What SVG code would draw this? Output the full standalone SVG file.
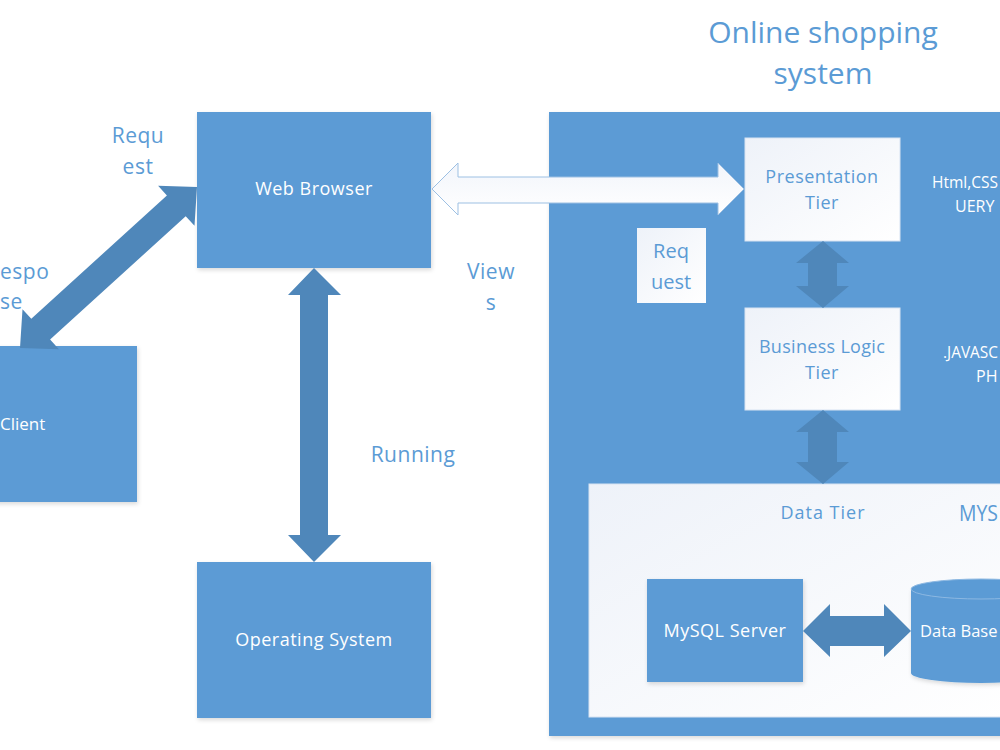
<svg xmlns="http://www.w3.org/2000/svg" width="1000" height="750" viewBox="0 0 1000 750">
  <defs>
    <linearGradient id="wg" x1="0" y1="0" x2="1" y2="1">
      <stop offset="0" stop-color="#eef2f9"/>
      <stop offset="1" stop-color="#ffffff"/>
    </linearGradient>
    <linearGradient id="ag" x1="0" y1="0" x2="0" y2="1">
      <stop offset="0" stop-color="#f2f5fb"/>
      <stop offset="1" stop-color="#ffffff"/>
    </linearGradient>
    <filter id="sh" x="-10%" y="-10%" width="120%" height="120%">
      <feDropShadow dx="1" dy="2" stdDeviation="2" flood-color="#000" flood-opacity="0.15"/>
    </filter>
  </defs>
  <style>
    .box { fill: #5b9bd5; filter: url(#sh); }
    .wbox { fill: url(#wg); stroke: #d7e3f2; stroke-width: 1; }
    .arr { fill: #4f87ba; }
    .t { font-family: "Open Sans", "Noto Sans", "Liberation Sans", sans-serif; }
    .wt { fill: #ffffff; font-size: 18px; letter-spacing: 0.5px; }
    .bt { fill: #5b9bd5; }
    .lb { font-size: 21px; letter-spacing: 0.5px; }
    .rt { fill: #ffffff; font-size: 16px; }
  </style>
  <rect width="1000" height="750" fill="#ffffff"/>

  <g id="title">
    <text class="t bt" x="823" y="43" font-size="30" text-anchor="middle">Online shopping</text>
    <text class="t bt" x="823" y="84" font-size="30" text-anchor="middle">system</text>
  </g>

  <g id="system">
    <rect class="box" x="549" y="112" width="460" height="624"/>
    <text class="t rt" x="932" y="188" textLength="66" lengthAdjust="spacingAndGlyphs">Html,CSS</text>
    <text class="t rt" x="955" y="212">UERY</text>
    <text class="t rt" x="943" y="358" textLength="55" lengthAdjust="spacingAndGlyphs">.JAVASC</text>
    <text class="t rt" x="976" y="382">PH</text>
  </g>

  <g id="data-tier">
    <rect x="589" y="484" width="420" height="233" fill="url(#wg)" stroke="#d7e3f2"/>
    <text class="t bt" x="823" y="519" font-size="18" letter-spacing="1" text-anchor="middle">Data Tier</text>
    <text class="t bt" x="959" y="521" font-size="21" textLength="39" lengthAdjust="spacingAndGlyphs">MYS</text>
  </g>

  <g id="client">
    <rect class="box" x="-80" y="346" width="217" height="156"/>
    <text class="t" fill="#ffffff" x="0" y="430" font-size="17">Client</text>
  </g>

  <g id="web-browser">
    <rect class="box" x="197" y="112" width="234" height="156"/>
    <text class="t wt" x="314" y="195" text-anchor="middle">Web Browser</text>
  </g>

  <g id="operating-system">
    <rect class="box" x="197" y="562" width="234" height="156"/>
    <text class="t wt" x="314" y="646" text-anchor="middle">Operating System</text>
  </g>

  <g id="presentation-tier">
    <rect class="wbox" x="745" y="138" width="155" height="103"/>
    <text class="t bt" x="822" y="183" font-size="18" letter-spacing="0.5" text-anchor="middle">Presentation</text>
    <text class="t bt" x="822" y="209" font-size="18" letter-spacing="0.5" text-anchor="middle">Tier</text>
  </g>

  <g id="business-logic-tier">
    <rect class="wbox" x="745" y="308" width="155" height="102"/>
    <text class="t bt" x="822" y="353" font-size="18" letter-spacing="0.3" text-anchor="middle">Business Logic</text>
    <text class="t bt" x="822" y="379" font-size="18" letter-spacing="0.5" text-anchor="middle">Tier</text>
  </g>

  <g id="mysql-server">
    <rect class="box" x="647" y="579" width="156" height="103"/>
    <text class="t wt" x="725" y="637" text-anchor="middle">MySQL Server</text>
  </g>

  <g id="database">
    <path d="M911,589 L911,673 A70,10 0 0 0 1051,673 L1051,589" fill="#5b9bd5" filter="url(#sh)"/>
    <ellipse cx="981" cy="589" rx="70" ry="10" fill="#5b9bd5" stroke="#8cb8e2" stroke-width="1"/>
    <text class="t" fill="#ffffff" x="920" y="637" font-size="16.5">Data Base</text>
  </g>

  <g id="request-note">
    <rect x="637" y="228" width="69" height="75" fill="url(#wg)"/>
    <text class="t bt" x="671" y="258" font-size="20" text-anchor="middle">Req</text>
    <text class="t bt" x="671" y="289" font-size="20" text-anchor="middle">uest</text>
  </g>

  <g id="connectors">
    <polygon class="arr" points="197,187 194.5,225.8 185.7,216.2 50.1,339.6 58.9,349.2 20,348 22.5,309.2 31.3,318.8 166.9,195.4 158.1,185.8"/>
    <polygon class="arr" points="314,268 341,295 328,295 328,535 341,535 314,562 288,535 300,535 300,295 288,295"/>
    <polygon points="432,189 458,163 458,177 718,177 718,163 744,189 718,215 718,203 458,203 458,215" fill="url(#ag)" stroke="#9dc0e3" stroke-width="1"/>
    <polygon class="arr" points="823,241 849,263 837,263 837,286 849,286 823,308 796,286 808,286 808,263 796,263"/>
    <polygon class="arr" points="823,410 849,432 837,432 837,462 849,462 823,484 796,462 808,462 808,432 796,432"/>
    <polygon class="arr" points="803,631 830,604 830,616 884,616 884,604 911,631 884,657 884,646 830,646 830,657"/>
  </g>

  <g id="labels">
    <text class="t bt lb" x="138" y="143" text-anchor="middle">Requ</text>
    <text class="t bt lb" x="138" y="174" text-anchor="middle">est</text>
    <text class="t bt lb" x="0" y="279">espo</text>
    <text class="t bt lb" x="0" y="309">se</text>
    <text class="t bt lb" x="491" y="279" letter-spacing="1" text-anchor="middle">View</text>
    <text class="t bt lb" x="491" y="310" text-anchor="middle">s</text>
    <text class="t bt lb" x="413" y="462" text-anchor="middle">Running</text>
  </g>
</svg>
